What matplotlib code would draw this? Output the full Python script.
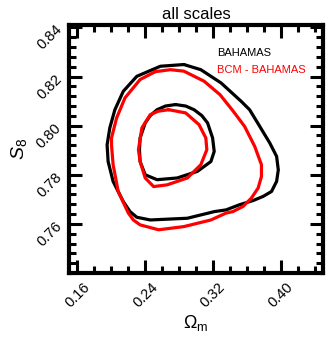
import numpy as np
import matplotlib
matplotlib.use("Agg")
import matplotlib.pyplot as plt
from matplotlib.ticker import MultipleLocator

plt.rcParams['font.family'] = ['Liberation Sans', 'DejaVu Sans']
plt.rcParams['mathtext.fontset'] = 'custom'
plt.rcParams['mathtext.rm'] = 'Liberation Sans'
plt.rcParams['mathtext.it'] = 'Liberation Sans:italic'

# contour traces (Omega_m, S8), closed curves
bah_outer_om = [0.2857, 0.3057, 0.3296, 0.3534, 0.3633, 0.3753, 0.3872, 0.3952, 0.3972, 0.3952,
                0.3892, 0.3793, 0.3674, 0.3514, 0.3355, 0.3216, 0.2898, 0.2460, 0.2301, 0.2221,
                0.2141, 0.2021, 0.1962, 0.1950, 0.1982, 0.2042, 0.2141, 0.2301, 0.2579]
bah_outer_s8 = [0.8249, 0.8228, 0.8174, 0.8099, 0.8065, 0.7997, 0.7929, 0.7875, 0.7820, 0.7773,
                0.7732, 0.7712, 0.7695, 0.7678, 0.7657, 0.7650, 0.7623, 0.7616, 0.7627, 0.7650,
                0.7691, 0.7773, 0.7854, 0.7922, 0.7991, 0.8065, 0.8140, 0.8201, 0.8242]

bah_inner_om = [0.2758, 0.2878, 0.2977, 0.3069, 0.3137, 0.3196, 0.3215, 0.3176, 0.3017, 0.2778,
                0.2540, 0.2400, 0.2340, 0.2332, 0.2340, 0.2400, 0.2460, 0.2540, 0.2639]
bah_inner_s8 = [0.8086, 0.8080, 0.8065, 0.8041, 0.8011, 0.7950, 0.7895, 0.7854, 0.7814, 0.7787,
                0.7780, 0.7800, 0.7854, 0.7902, 0.7950, 0.8011, 0.8041, 0.8065, 0.8080]

bcm_outer_om = [0.2519, 0.2698, 0.2857, 0.3096, 0.3284, 0.3435, 0.3574, 0.3693, 0.3773, 0.3773,
                0.3734, 0.3654, 0.3555, 0.3435, 0.3355, 0.3176, 0.2857, 0.2559, 0.2340, 0.2260,
                0.2201, 0.2081, 0.2021, 0.2002, 0.2002, 0.2062, 0.2161, 0.2340]
bcm_outer_s8 = [0.8220, 0.8228, 0.8222, 0.8181, 0.8126, 0.8061, 0.7997, 0.7916, 0.7841, 0.7793,
                0.7746, 0.7705, 0.7671, 0.7650, 0.7644, 0.7616, 0.7589, 0.7576, 0.7596, 0.7616,
                0.7644, 0.7732, 0.7841, 0.7922, 0.7950, 0.8031, 0.8113, 0.8188]

bcm_inner_om = [0.2678, 0.2878, 0.3036, 0.3116, 0.3128, 0.3057, 0.2898, 0.2659, 0.2499, 0.2400,
                0.2340, 0.2320, 0.2361, 0.2460, 0.2555]
bcm_inner_s8 = [0.8065, 0.8052, 0.8004, 0.7950, 0.7902, 0.7841, 0.7787, 0.7759, 0.7752, 0.7787,
                0.7854, 0.7902, 0.7991, 0.8045, 0.8059]

xticks = [0.16, 0.24, 0.32, 0.40]
yticks = [0.76, 0.78, 0.80, 0.82, 0.84]


def closed(xs, ys):
    return list(xs) + [xs[0]], list(ys) + [ys[0]]


fig = plt.figure(figsize=(3.32, 3.40), dpi=100)
ax = fig.add_axes([69 / 332, 67 / 340, 254 / 332, 248 / 340])

for xs, ys, c in [(bah_outer_om, bah_outer_s8, 'black'),
                  (bah_inner_om, bah_inner_s8, 'black'),
                  (bcm_outer_om, bcm_outer_s8, 'red'),
                  (bcm_inner_om, bcm_inner_s8, 'red')]:
    px, py = closed(xs, ys)
    ax.plot(px, py, color=c, lw=2.3, solid_joinstyle='round', solid_capstyle='round')

ax.set_xlim(0.15, 0.45)
ax.set_ylim(0.74, 0.841)
ax.set_xticks(xticks)
ax.set_yticks(yticks)
ax.set_xticklabels([f"{v:.2f}" for v in xticks], rotation=45, ha='center')
ax.set_yticklabels([f"{v:.2f}" for v in yticks], rotation=45, ha='right', va='center',
                   rotation_mode='anchor')
ax.xaxis.set_minor_locator(MultipleLocator(0.02))
ax.yaxis.set_minor_locator(MultipleLocator(0.004))
ax.tick_params(which='both', direction='in', top=True, right=True, width=2.2)
ax.tick_params(which='major', length=9.5, labelsize=10.5)
ax.tick_params(axis='x', which='major', pad=5)
ax.tick_params(axis='y', which='major', pad=7)
ax.tick_params(which='minor', length=5)
for s in ax.spines.values():
    s.set_linewidth(3)

ax.set_xlabel(r'$\Omega_{\rm m}$', fontsize=13, labelpad=2)
ax.set_ylabel(r'$S_8$', fontsize=14, labelpad=4)
ax.set_title('all scales', fontsize=12, pad=4)

ax.text(0.583, 0.887, 'BAHAMAS', transform=ax.transAxes, fontsize=8, color='black',
        ha='left', va='center')
ax.text(0.583, 0.819, 'BCM - BAHAMAS', transform=ax.transAxes, fontsize=8, color='red',
        ha='left', va='center')

fig.savefig('out.png', dpi=100)
